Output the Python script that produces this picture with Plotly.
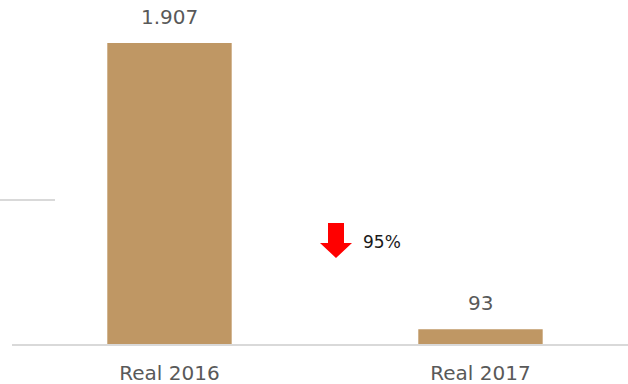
import plotly.graph_objects as go

# Data
categories = ["Real 2016", "Real 2017"]
values = [1907, 93]
change_label = "95%"

bar_color = "#BF9764"
label_color = "#595959"
axis_color = "#D9D9D9"
font_family = "DejaVu Sans, Verdana, sans-serif"

W, H = 628, 384
m_l, m_r, m_t, m_b = 12, 0, 10, 40
plot_w = W - m_l - m_r
plot_h = H - m_t - m_b

y_max = 2116
x_range = [-0.5064, 1.4743]


def fmt(v):
    return f"{v:,}".replace(",", ".")


def px_to_paper(px, py):
    return (px - m_l) / plot_w, (H - m_b - py) / plot_h


fig = go.Figure(
    go.Bar(
        x=categories,
        y=values,
        marker=dict(color=bar_color, line=dict(width=0)),
        width=0.4,
        hoverinfo="skip",
    )
)

# value labels above the bars
for c, v in zip(categories, values):
    fig.add_annotation(
        x=c, y=v, text=fmt(v), showarrow=False,
        yanchor="bottom", yshift=12,
        font=dict(family=font_family, size=20, color=label_color),
    )

# red down arrow with the change
pts = [(328, 223), (344, 223), (344, 243), (352, 243), (336, 258), (320, 243), (328, 243)]
path = "M " + " L ".join(f"{px_to_paper(x, y)[0]:.5f},{px_to_paper(x, y)[1]:.5f}" for x, y in pts) + " Z"
fig.add_shape(type="path", path=path, xref="paper", yref="paper",
              fillcolor="#FF0000", line=dict(width=0))
ax, ay = px_to_paper(361, 242)
fig.add_annotation(x=ax, y=ay, xref="paper", yref="paper", text=change_label,
                   showarrow=False, xanchor="left", yanchor="middle",
                   font=dict(family=font_family, size=17, color="#1a1a1a"))

# short rule on the left edge
lx0, ly = px_to_paper(0, 200)
lx1, _ = px_to_paper(55, 200)
fig.add_shape(type="line", xref="paper", yref="paper", x0=lx0, x1=lx1, y0=ly, y1=ly,
              line=dict(color=axis_color, width=2))

fig.update_layout(
    width=W, height=H,
    margin=dict(l=m_l, r=m_r, t=m_t, b=m_b, autoexpand=False),
    paper_bgcolor="white", plot_bgcolor="white",
    showlegend=False,
    xaxis=dict(
        range=x_range, showgrid=False, zeroline=False, automargin=False,
        showline=True, linecolor=axis_color, linewidth=2,
        ticks="", ticklabelstandoff=10,
        tickfont=dict(family=font_family, size=20, color=label_color),
    ),
    yaxis=dict(range=[0, y_max], visible=False, automargin=False),
)

fig.write_html("out.html")
